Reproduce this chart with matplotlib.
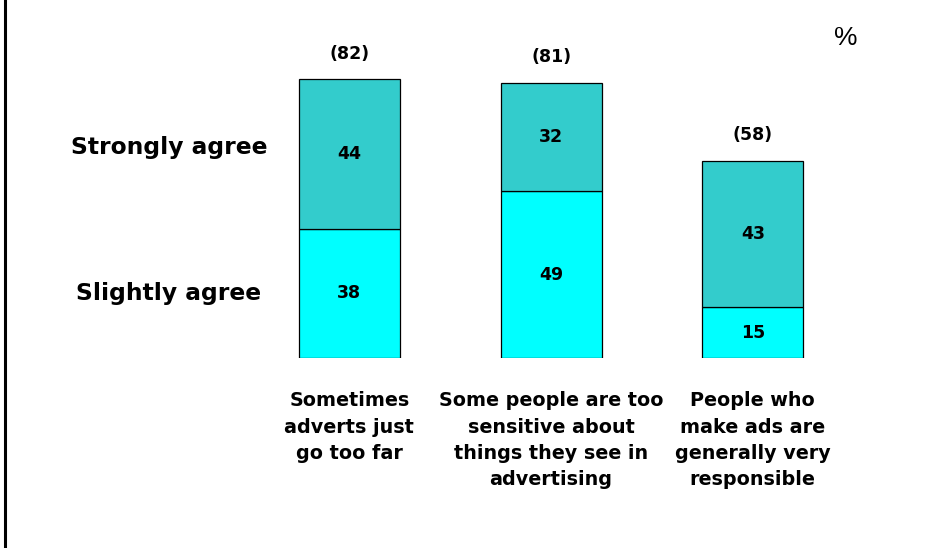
import matplotlib
matplotlib.use("Agg")
import matplotlib.pyplot as plt
from matplotlib.lines import Line2D
import matplotlib.transforms as mtransforms

categories = ["Sometimes\nadverts just\ngo too far",
              "Some people are too\nsensitive about\nthings they see in\nadvertising",
              "People who\nmake ads are\ngenerally very\nresponsible"]
slightly_agree = [38, 49, 15]
strongly_agree = [44, 32, 43]
totals = [82, 81, 58]

plt.rcParams['font.family'] = ['DejaVu Sans']

W, H = 948, 548
fig = plt.figure(figsize=(W / 100, H / 100), dpi=100)
fig.patch.set_facecolor('white')

left_px = 248.6
width_px = 605.0
bottom_px = 190.0
height_px = 306.0
ax = fig.add_axes([left_px / W, bottom_px / H, width_px / W, height_px / H])
ax.set_xlim(-0.5, 2.5)
ax.set_ylim(0, 90)

x = list(range(len(categories)))
c_slight = '#00FFFF'
c_strong = '#33CCCC'
ax.bar(x, slightly_agree, width=0.5, color=c_slight, edgecolor='black', linewidth=0.9)
ax.bar(x, strongly_agree, bottom=slightly_agree, width=0.5, color=c_strong,
       edgecolor='black', linewidth=0.9)

for i in x:
    ax.text(i, slightly_agree[i] / 2, str(slightly_agree[i]), ha='center', va='center',
            fontsize=12.5, fontweight='bold')
    ax.text(i, slightly_agree[i] + strongly_agree[i] / 2, str(strongly_agree[i]),
            ha='center', va='center', fontsize=12.5, fontweight='bold')
    ax.annotate(f"({totals[i]})", (i, totals[i]), xytext=(0, 12), textcoords='offset points',
                ha='center', va='bottom', fontsize=12.5, fontweight='bold')

ax.set_xticks(x)
ax.set_xticklabels(categories, fontsize=13.8, fontweight='bold', linespacing=1.48, va='top')
ax.tick_params(axis='x', length=0, pad=24)
ax.tick_params(axis='y', left=False, labelleft=False)
for s in ax.spines.values():
    s.set_visible(False)
ax.patch.set_alpha(0)

trans = mtransforms.blended_transform_factory(fig.transFigure, ax.transData)
ax.text(169.5 / W, 61.8, "Strongly agree", transform=trans, ha='center', va='center',
        fontsize=16.8, fontweight='bold')
ax.text(169 / W, 19.1, "Slightly agree", transform=trans, ha='center', va='center',
        fontsize=16.8, fontweight='bold')

fig.text(846 / W, 1 - 38 / H, "%", ha='center', va='center', fontsize=19,
         family='Liberation Sans')

fig.add_artist(Line2D([5 / W, 5 / W], [0, 1], transform=fig.transFigure, color='black', linewidth=2.2))

fig.savefig("out.png", dpi=100, facecolor='white')
